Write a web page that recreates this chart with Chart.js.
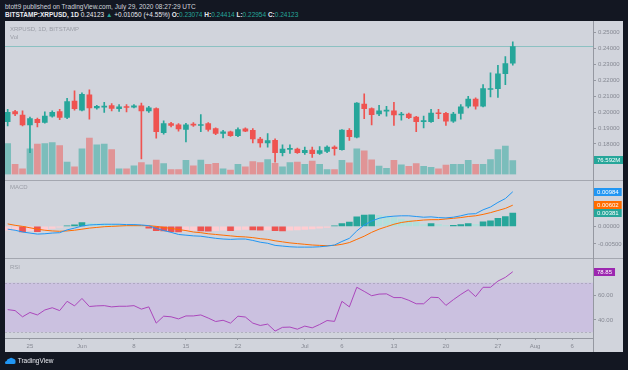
<!DOCTYPE html>
<html>
<head>
<meta charset="utf-8">
<script src="https://cdn.jsdelivr.net/npm/chart.js@4.4.1/dist/chart.umd.min.js"></script>
<style>
  body { margin: 0; background: #131722; width: 628px; height: 370px; overflow: hidden; font-family: "Liberation Sans", Arial, sans-serif; }
  #head1 { position: absolute; left: 5px; top: 3px; font-size: 6.5px; color: #d1d4dc; white-space: nowrap; }
  #head2 { position: absolute; left: 5px; top: 11px; font-size: 6.5px; color: #e8eaf0; font-weight: bold; white-space: nowrap; }
  #head2 .n { font-weight: normal; }
  .up { color: #26a69a; font-weight: normal; }
  #frame { position: absolute; left: 5px; top: 21px; width: 618px; height: 331px; background: #d1d4dc; }
  #frame canvas { position: absolute; left: 0; }
  .lbl { position: absolute; left: 5px; font-size: 6px; color: #9a9da6; white-space: nowrap; }
  .sep { position: absolute; left: 0; width: 618px; height: 1px; background: #a4a7b0; }
  #vline { position: absolute; left: 588px; top: 0; width: 1px; height: 331px; background: #9598a1; }
  #logo { position: absolute; left: 5px; top: 357px; height: 10px; font-size: 6.5px; color: #e8eaf0; white-space: nowrap; }
  #logo svg { vertical-align: middle; }
</style>
</head>
<body>
<div id="head1">btott9 published on TradingView.com, July 29, 2020 08:27:29 UTC</div>
<div id="head2">BITSTAMP:XRPUSD, 1D <span class="n">0.24123</span> <span class="up">▲</span> <span class="n">+0.01050 (+4.55%)</span> O:<span class="up">0.23074</span> H:<span class="up">0.24414</span> L:<span class="up">0.22954</span> C:<span class="up">0.24123</span></div>

<div id="frame">
  <canvas id="price" width="618" height="159" style="top:0"></canvas>
  <div class="sep" style="top:159px"></div>
  <canvas id="macd" width="618" height="77" style="top:160px"></canvas>
  <div class="sep" style="top:237px"></div>
  <canvas id="rsi" width="618" height="93" style="top:238px"></canvas>
  <div id="vline"></div>
  <div class="lbl" style="top:5px">XRPUSD, 1D, BITSTAMP</div>
  <div class="lbl" style="top:13px">Vol</div>
  <div class="lbl" style="top:163px">MACD</div>
  <div class="lbl" style="top:243px">RSI</div>
</div>

<div id="logo"><svg width="11" height="8" viewBox="0 0 11 8"><path d="M1 7 Q0 7 0 5.5 Q0 4 1.6 4 Q2 1.5 4.5 1.5 Q6 0 8 1.5 Q11 2 10.5 5 Q11 7 9 7 Z" fill="#2196f3"/></svg> TradingView</div>

<script>
// XRPUSD daily, May 22 (index 0) to Jul 29 (index 68)
const opens = [0.1940,0.2004,0.1982,0.1920,0.1955,0.1936,0.1975,0.2004,0.1967,0.2070,
  0.2013,0.2109,0.2027,0.2031,0.2041,0.2022,0.2033,0.2031,0.2039,0.2008,
  0.2023,0.1871,0.1928,0.1920,0.1891,0.1922,0.1916,0.1928,0.1897,0.1866,
  0.1877,0.1852,0.1895,0.1885,0.1831,0.1807,0.1823,0.1745,0.1766,0.1768,
  0.1745,0.1762,0.1741,0.1753,0.1780,0.1765,0.1885,0.1842,0.2051,0.2022,
  0.1988,0.2006,0.2008,0.1982,0.1988,0.1969,0.1940,0.1940,0.1994,0.1992,
  0.1943,0.1992,0.2037,0.2082,0.2037,0.2142,0.2148,0.2241,0.23074];
const highs = [0.2018,0.2012,0.2008,0.1969,0.1963,0.2002,0.2008,0.2018,0.2086,0.2134,
  0.2121,0.2140,0.2043,0.2062,0.2053,0.2047,0.2047,0.2047,0.2057,0.2037,
  0.2027,0.1946,0.1936,0.1928,0.1930,0.1934,0.1984,0.1934,0.1901,0.1885,
  0.1881,0.1901,0.1901,0.1897,0.1842,0.1866,0.1832,0.1794,0.1794,0.1774,
  0.1780,0.1780,0.1784,0.1788,0.1788,0.1891,0.1897,0.2060,0.2115,0.2027,
  0.2043,0.2037,0.2062,0.1998,0.1994,0.1973,0.1975,0.2018,0.2018,0.1998,
  0.1998,0.2047,0.2099,0.2089,0.2173,0.2247,0.2294,0.2349,0.24414];
const lows = [0.1914,0.1978,0.1914,0.1745,0.1907,0.1930,0.1969,0.1953,0.1959,0.2013,
  0.2008,0.1955,0.2018,0.1998,0.2008,0.2004,0.2002,0.2027,0.1706,0.1998,
  0.1836,0.1862,0.1907,0.1881,0.1813,0.1911,0.1877,0.1881,0.1858,0.1838,
  0.1848,0.1846,0.1877,0.1807,0.1780,0.1780,0.1686,0.1725,0.1741,0.1741,
  0.1735,0.1716,0.1735,0.1745,0.1730,0.1761,0.1823,0.1838,0.1959,0.1920,
  0.1978,0.1975,0.1916,0.1949,0.1959,0.1877,0.1901,0.1936,0.1959,0.1916,
  0.1936,0.1955,0.2027,0.2018,0.2033,0.2095,0.2092,0.2173,0.22954];
const closes = [0.1998,0.1988,0.1920,0.1959,0.1934,0.1975,0.1998,0.1967,0.2066,0.2022,
  0.2111,0.2027,0.2037,0.2035,0.2023,0.2033,0.2029,0.2039,0.2008,0.2027,
  0.1877,0.1928,0.1916,0.1895,0.1920,0.1918,0.1922,0.1891,0.1866,0.1876,
  0.1852,0.1891,0.1881,0.1832,0.1807,0.1821,0.1745,0.1768,0.1770,0.1745,
  0.1760,0.1739,0.1759,0.1780,0.1770,0.1887,0.1846,0.2057,0.2022,0.1984,
  0.2008,0.2010,0.1982,0.1987,0.1965,0.1940,0.1943,0.1994,0.1990,0.1943,
  0.1988,0.2033,0.2082,0.2037,0.2148,0.2148,0.2241,0.2305,0.24123];
// volume, millions
const volumes = [170,56,31,141,167,170,175,158,68,42,
  141,200,162,167,136,31,31,47,65,53,
  78,60,27,26,77,47,78,56,61,31,
  24,56,42,71,65,82,61,42,65,68,
  56,73,56,27,27,77,63,141,129,80,
  46,34,77,53,44,60,44,39,31,51,
  56,56,77,56,56,82,136,155,76.592];
const macdLine = [-0.0008,-0.0011,-0.0016,-0.0019,-0.0022,-0.0021,-0.0019,-0.0018,-0.0010,-0.0005,
  0.0001,0.0004,0.0005,0.0006,0.0006,0.0006,0.0005,0.0005,0.0004,0.0002,
  -0.0006,-0.0012,-0.0017,-0.0023,-0.0025,-0.0027,-0.0028,-0.0031,-0.0034,-0.0036,
  -0.0037,-0.0036,-0.0036,-0.0040,-0.0045,-0.0048,-0.0054,-0.0056,-0.0058,-0.0059,
  -0.0059,-0.0059,-0.0058,-0.0056,-0.0053,-0.0043,-0.0034,-0.0013,0.0004,0.0015,
  0.0023,0.0027,0.0029,0.0030,0.0030,0.0028,0.0026,0.0027,0.0025,0.0024,
  0.0026,0.0030,0.0035,0.0036,0.0047,0.0055,0.0068,0.0079,0.00984];
const signalLine = [0.0007,0.0003,0.0000,-0.0004,-0.0008,-0.0011,-0.0013,-0.0014,-0.0013,-0.0011,
  -0.0008,-0.0005,-0.0003,-0.0001,0.0000,0.0001,0.0002,0.0002,0.0002,0.0002,
  0.0000,-0.0003,-0.0006,-0.0009,-0.0012,-0.0016,-0.0018,-0.0021,-0.0023,-0.0025,
  -0.0027,-0.0029,-0.0030,-0.0032,-0.0035,-0.0037,-0.0041,-0.0044,-0.0047,-0.0049,
  -0.0051,-0.0053,-0.0054,-0.0055,-0.0054,-0.0051,-0.0046,-0.0037,-0.0028,-0.0017,
  -0.0008,-0.0001,0.0006,0.0011,0.0014,0.0016,0.0018,0.0019,0.0019,0.0021,
  0.0023,0.0025,0.0028,0.0030,0.0034,0.0039,0.0045,0.0051,0.00602];
const histogram = [-0.0011,-0.0010,-0.0016,-0.0012,-0.0015,-0.0010,-0.0006,-0.0002,0.0001,0.0004,
  0.0011,0.0009,0.0008,0.0007,0.0006,0.0005,0.0004,0.0003,0.0001,-0.0005,
  -0.0012,-0.0013,-0.0015,-0.0016,-0.0013,-0.0011,-0.0013,-0.0014,-0.0012,-0.0011,
  -0.0012,-0.0010,-0.0009,-0.0010,-0.0011,-0.0010,-0.0012,-0.0013,-0.0011,-0.0010,
  -0.0009,-0.0007,-0.0005,-0.0003,0.0001,0.0008,0.0012,0.0027,0.0032,0.0033,
  0.0031,0.0029,0.0025,0.0021,0.0017,0.0012,0.0005,0.0008,0.0006,0.0002,
  0.0003,0.0005,0.0008,0.0006,0.0013,0.0016,0.0023,0.0028,0.00381];
const rsi = [48.3,47.5,42.5,46,44,48,49.8,47.5,55,51.3,
  57.3,50.8,51.3,51.5,50.5,51,51,51.5,48.7,50.5,
  37.4,43,42.5,40.8,43.2,43.2,44,41.5,38.7,39.7,
  37.4,43,42.3,37.4,35.5,36.6,31,34,34.2,32.5,
  35,33.6,36.3,39.5,38.8,55,50.5,66.3,63,59.5,
  60.8,61,58,58,55.8,53,53,58.3,58,51.7,
  56.3,60.5,64.3,58.8,66.3,66.3,71.3,74.3,78.85];

const priceTicks = [0.18, 0.19, 0.20, 0.21, 0.22, 0.23, 0.24, 0.25];
const macdTicks = [0, -0.005];
const rsiTicks = [40, 60];
const timeTickIdx = [3, 10, 17, 24, 31, 40, 45, 52, 59, 66, 71, 76];
const timeTickLabels = ["25", "Jun", "8", "15", "22", "Jul", "6", "13", "20", "27", "Aug", "6"];

const UP = "#26a69a", DOWN = "#ef5350";
const AXIS = "#9598a1", TXT = "#868993";
const X_MIN = -0.36, X_MAX = 78.8;

Chart.defaults.font.family = '"Liberation Sans", Arial, sans-serif';

const idx = closes.map((c, i) => i);
const isUp = idx.map(i => closes[i] >= opens[i]);

function hiddenX() {
  return { type: "linear", min: X_MIN, max: X_MAX, display: false, offset: false };
}

function rightAxis(min, max, ticks, fmt) {
  return {
    position: "right", min: min, max: max,
    afterFit: s => { s.width = 30; },
    afterBuildTicks: s => { s.ticks = ticks.map(v => ({ value: v })); },
    grid: { drawOnChartArea: false, drawTicks: true, tickLength: 3, color: AXIS },
    border: { display: false },
    ticks: { callback: v => fmt(v), font: { size: 6 }, color: TXT, padding: 2 }
  };
}

// coloured value boxes on the price axis
const tagPlugin = {
  id: "tags",
  afterDraw(chart, args, opts) {
    const ctx = chart.ctx;
    ctx.save();
    ctx.font = '6px "Liberation Sans", Arial, sans-serif';
    ctx.textBaseline = "middle";
    (opts.items || []).forEach(t => {
      const y = Math.round(chart.scales[t.axis].getPixelForValue(t.value));
      const w = ctx.measureText(t.text).width + 6;
      const x = chart.chartArea.right + 1;
      ctx.fillStyle = t.bg;
      ctx.fillRect(x, y - 4, w, 8);
      ctx.fillStyle = "#ffffff";
      ctx.fillText(t.text, x + 3, y + 0.5);
    });
    ctx.restore();
  }
};

// last price line
const priceLine = {
  id: "priceLine",
  beforeDatasetsDraw(chart) {
    const ctx = chart.ctx, a = chart.chartArea;
    const y = Math.round(chart.scales.y.getPixelForValue(closes[closes.length - 1])) + 0.5;
    ctx.save();
    ctx.strokeStyle = "rgba(38,166,154,0.4)";
    ctx.lineWidth = 1;
    ctx.beginPath(); ctx.moveTo(a.left, y); ctx.lineTo(a.right, y); ctx.stroke();
    ctx.restore();
  }
};

// RSI 70/30 band
const rsiBand = {
  id: "rsiBand",
  beforeDatasetsDraw(chart) {
    const ctx = chart.ctx, a = chart.chartArea, s = chart.scales.y;
    const y1 = s.getPixelForValue(70), y2 = s.getPixelForValue(30);
    ctx.save();
    ctx.fillStyle = "#cbc1e0";
    ctx.fillRect(a.left, y1, a.right - a.left, y2 - y1);
    ctx.strokeStyle = "rgba(120,123,134,0.35)";
    ctx.setLineDash([2, 2]);
    [y1, y2].forEach(y => {
      ctx.beginPath(); ctx.moveTo(a.left, Math.round(y) + 0.5); ctx.lineTo(a.right, Math.round(y) + 0.5); ctx.stroke();
    });
    ctx.restore();
  }
};

const common = {
  responsive: false, animation: false, devicePixelRatio: 1,
  layout: { padding: 0 }
};

// price + volume
new Chart(document.getElementById("price"), {
  type: "bar",
  data: {
    datasets: [
      {
        order: 1, grouped: false, barThickness: 5, minBarLength: 1,
        data: idx.map(i => ({ x: i, y: [opens[i], closes[i]] })),
        backgroundColor: isUp.map(u => u ? UP : DOWN)
      },
      {
        order: 2, grouped: false, barThickness: 1,
        data: idx.map(i => ({ x: i, y: [lows[i], highs[i]] })),
        backgroundColor: isUp.map(u => u ? UP : DOWN)
      },
      {
        order: 3, grouped: false, barThickness: 6, yAxisID: "yv",
        data: idx.map(i => ({ x: i, y: volumes[i] })),
        backgroundColor: isUp.map(u => u ? "rgba(38,166,154,0.5)" : "rgba(239,83,80,0.5)")
      }
    ]
  },
  options: Object.assign({}, common, {
    plugins: {
      legend: { display: false }, tooltip: { enabled: false },
      tags: { items: [{ axis: "yv", value: volumes[68], text: volumes[68].toFixed(3) + "M", bg: UP }] }
    },
    scales: {
      x: hiddenX(),
      y: rightAxis(0.1609, 0.2537, priceTicks, v => v.toFixed(5)),
      yv: { display: false, min: 0, max: 812 }
    }
  }),
  plugins: [tagPlugin, priceLine]
});

// MACD
let prevH = null;
const histColors = histogram.map(v => {
  let c;
  if (v >= 0) c = (prevH === null || v >= prevH) ? "#26a69a" : "#b2dfdb";
  else c = (prevH !== null && v < prevH) ? "#ef5350" : "#ffcdd2";
  prevH = v;
  return c;
});

new Chart(document.getElementById("macd"), {
  type: "bar",
  data: {
    datasets: [
      {
        type: "line", order: 1, data: idx.map(i => ({ x: i, y: macdLine[i] })),
        borderColor: "#2196f3", borderWidth: 1, pointRadius: 0, tension: 0
      },
      {
        type: "line", order: 2, data: idx.map(i => ({ x: i, y: signalLine[i] })),
        borderColor: "#ff6d00", borderWidth: 1, pointRadius: 0, tension: 0
      },
      {
        order: 3, grouped: false, barThickness: 6,
        data: idx.map(i => ({ x: i, y: histogram[i] })),
        backgroundColor: histColors
      }
    ]
  },
  options: Object.assign({}, common, {
    plugins: {
      legend: { display: false }, tooltip: { enabled: false },
      tags: { items: [
        { axis: "y", value: macdLine[68], text: macdLine[68].toFixed(5), bg: "#2196f3" },
        { axis: "y", value: signalLine[68], text: signalLine[68].toFixed(5), bg: "#ff6d00" },
        { axis: "y", value: histogram[68], text: histogram[68].toFixed(5), bg: "#26a69a" }
      ] }
    },
    scales: {
      x: hiddenX(),
      y: rightAxis(-0.0074, 0.0113, macdTicks, v => v.toFixed(5))
    }
  }),
  plugins: [tagPlugin]
});

// RSI + time axis
new Chart(document.getElementById("rsi"), {
  type: "line",
  data: {
    datasets: [{
      data: idx.map(i => ({ x: i, y: rsi[i] })),
      borderColor: "#ab47bc", borderWidth: 1, pointRadius: 0, tension: 0
    }]
  },
  options: Object.assign({}, common, {
    plugins: {
      legend: { display: false }, tooltip: { enabled: false },
      tags: { items: [{ axis: "y", value: rsi[68], text: rsi[68].toFixed(2), bg: "#9c27b0" }] }
    },
    scales: {
      x: {
        type: "linear", min: X_MIN, max: X_MAX, offset: false,
        afterFit: s => { s.height = 14; },
        afterBuildTicks: s => { s.ticks = timeTickIdx.map(v => ({ value: v })); },
        grid: { drawOnChartArea: false, drawTicks: true, tickLength: 2, color: AXIS },
        border: { display: true, color: AXIS },
        ticks: { callback: (v, i) => timeTickLabels[i], autoSkip: false, maxRotation: 0, font: { size: 6 }, color: TXT, padding: 3 }
      },
      y: rightAxis(25.4, 84.6, rsiTicks, v => v.toFixed(2))
    }
  }),
  plugins: [tagPlugin, rsiBand]
});
</script>
</body>
</html>
